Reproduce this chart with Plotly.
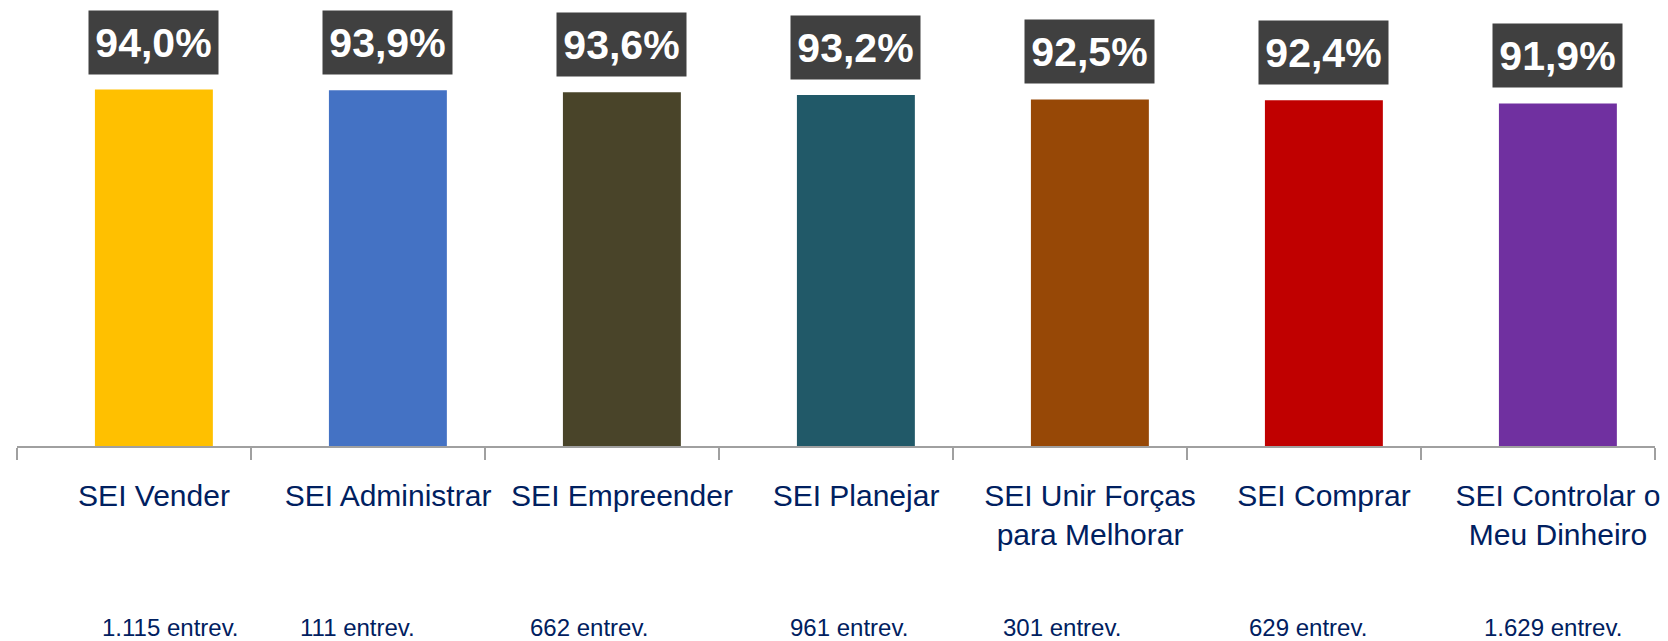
import plotly.graph_objects as go

categories = ["SEI Vender", "SEI Administrar", "SEI Empreender", "SEI Planejar",
              "SEI Unir Forças<br>para Melhorar", "SEI Comprar", "SEI Controlar o<br>Meu Dinheiro"]
values = [94.0, 93.9, 93.6, 93.2, 92.5, 92.4, 91.9]
value_labels = ["94,0%", "93,9%", "93,6%", "93,2%", "92,5%", "92,4%", "91,9%"]
interviews = ["1.115 entrev.", "111 entrev.", "662 entrev.", "961 entrev.",
              "301 entrev.", "629 entrev.", "1.629 entrev."]
colors = ["#FFC000", "#4472C4", "#494429", "#215968", "#974806", "#C00000", "#7030A0"]

# horizontal pixel nudges of the "entrev." notes (layout only)
entrev_xshift = [36, -11, -13, 13, -8, 4, 15]

NAVY = "#002060"
FONT = "Liberation Sans, Arial, sans-serif"

fig = go.Figure()
fig.add_trace(go.Bar(
    x=categories, y=values, marker=dict(color=colors, line=dict(width=0)),
    width=0.504, offset=-0.167, hoverinfo="skip",
))

annotations = []
for cat, v, lab, n, dx in zip(categories, values, value_labels, interviews, entrev_xshift):
    annotations.append(dict(
        x=cat, y=v, xref="x", yref="y", text="<b>" + lab + "</b>",
        showarrow=False, yanchor="bottom", xanchor="center", xshift=19, yshift=15,
        font=dict(family=FONT, size=41, color="white"),
        bgcolor="#404040", borderpad=0, width=129, height=63,
    ))
    annotations.append(dict(
        x=cat, y=-0.4583, xref="x", yref="paper", text=n,
        showarrow=False, yanchor="middle", xanchor="center", xshift=dx,
        font=dict(family=FONT, size=24, color=NAVY),
    ))

fig.update_layout(
    width=1660, height=633,
    margin=dict(l=9, r=13, t=42, b=195, pad=0, autoexpand=False),
    paper_bgcolor="white", plot_bgcolor="white",
    showlegend=False,
    annotations=annotations,
    xaxis=dict(
        type="category", showline=True, linecolor="#A0A0A0", linewidth=2,
        ticks="outside", tickson="boundaries", ticklen=12, tickwidth=2, tickcolor="#A0A0A0",
        tickfont=dict(family=FONT, size=30, color=NAVY),
        tickangle=0, automargin=False,
        ticklabelshift=20, ticklabelstandoff=22,
        showgrid=False, zeroline=False,
    ),
    yaxis=dict(range=[40, 100], visible=False, showgrid=False, zeroline=False, automargin=False),
)

fig.write_html("out.html")
